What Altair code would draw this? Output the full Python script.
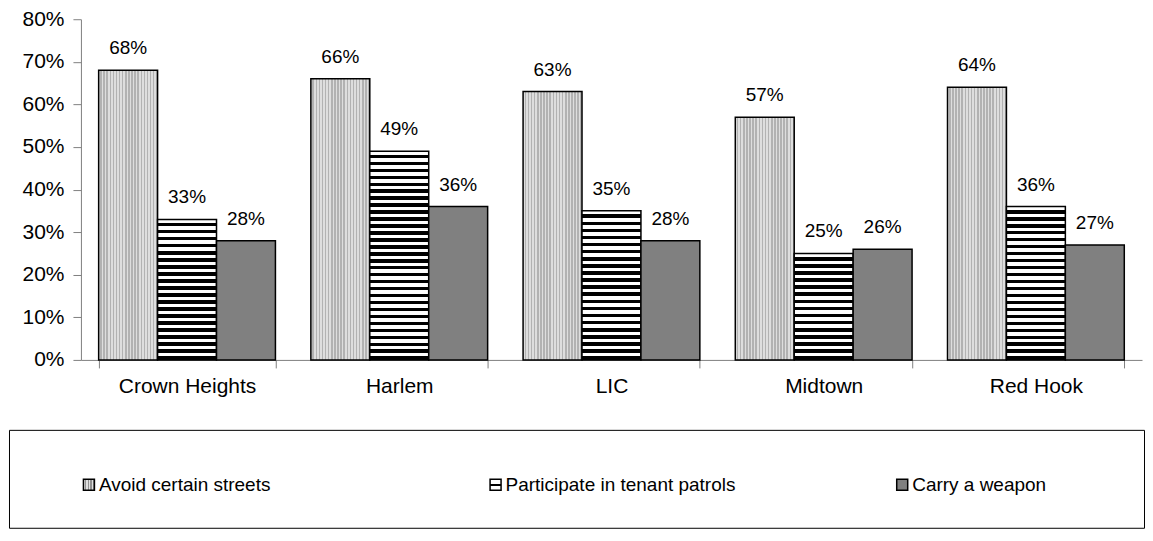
import altair as alt
import pandas as pd

# ---- data ----
categories = ["Crown Heights", "Harlem", "LIC", "Midtown", "Red Hook"]
series = ["Avoid certain streets", "Participate in tenant patrols", "Carry a weapon"]
avoid = [0.68, 0.66, 0.63, 0.57, 0.64]
patrols = [0.33, 0.49, 0.35, 0.25, 0.36]
weapon = [0.28, 0.36, 0.28, 0.26, 0.27]
y_ticks = [0.0, 0.1, 0.2, 0.3, 0.4, 0.5, 0.6, 0.7, 0.8]

rows = []
for i, c in enumerate(categories):
    for s, vals in zip(series, [avoid, patrols, weapon]):
        rows.append({"cat": c, "series": s, "value": vals[i]})
df = pd.DataFrame(rows)

# ---- styling ----
FONT = "Liberation Sans"
VIEW_W, PLOT_H = 1134, 341
AXIS_X = 72          # y axis sits this far inside the view, leaving room for its labels
Y_MAX = 0.8
STRIPE_PERIOD = 7
DOT_COLUMNS = 19
SOLID_GRAY = "#808080"
AXIS_GRAY = "#808080"


def banded(n, c1, c2, horizontal_bands=True, split=0.5):
    stops = []
    for k in range(n):
        a, b, c = k / n, (k + split) / n, (k + 1) / n
        stops += [
            {"offset": a, "color": c1},
            {"offset": b, "color": c1},
            {"offset": b, "color": c2},
            {"offset": c, "color": c2},
        ]
    if horizontal_bands:
        return {"gradient": "linear", "x1": 0, "y1": 0, "x2": 0, "y2": 1, "stops": stops}
    return {"gradient": "linear", "x1": 0, "y1": 0, "x2": 1, "y2": 0, "stops": stops}


DOTS = banded(DOT_COLUMNS, "#dedede", "#b2b2b2", horizontal_bands=False)

conds = []
for c, v in zip(categories, patrols):
    n = max(1, round(v / Y_MAX * PLOT_H / STRIPE_PERIOD))
    conds.append({"test": f"datum.series === '{series[1]}' && datum.cat === '{c}'",
                  "value": banded(n, "white", "black")})
conds.append({"test": f"datum.series === '{series[0]}'", "value": DOTS})
bar_fill = {"condition": conds, "value": SOLID_GRAY}

x = alt.X(
    "cat:N",
    sort=categories,
    scale=alt.Scale(paddingInner=0.167, paddingOuter=0.0835, range=[AXIS_X, VIEW_W]),
    axis=alt.Axis(
        title=None, labelAngle=0, labelFontSize=21, labelColor="black",
        tickBand="extent", tickSize=8, tickColor=AXIS_GRAY, domainColor=AXIS_GRAY,
        labelPadding=8, labelFont=FONT,
    ),
)
xo = alt.XOffset("series:N", sort=series, scale=alt.Scale(domain=series))
y = alt.Y(
    "value:Q",
    scale=alt.Scale(domain=[0, Y_MAX], nice=False),
    axis=alt.Axis(
        values=y_ticks, format=".0%", title=None, grid=False, tickSize=8,
        tickColor=AXIS_GRAY, domainColor=AXIS_GRAY, labelFontSize=21,
        labelColor="black", labelPadding=9, offset=-AXIS_X, minExtent=0, labelFont=FONT,
    ),
)

base = alt.Chart(df)
bars = base.mark_bar(stroke="black", strokeWidth=1.5).encode(x=x, xOffset=xo, y=y, fill=bar_fill)
labels = base.mark_text(baseline="alphabetic", dy=-16, fontSize=19, font=FONT, color="black").encode(
    x=x, xOffset=xo, y=y, text=alt.Text("value:Q", format=".0%")
)
top = alt.layer(bars, labels).properties(width=VIEW_W, height=PLOT_H)

# ---- legend panel ----
leg_df = pd.DataFrame({"series": series})
leg_symbol_stripe = {
    "gradient": "linear", "x1": 0, "y1": 0, "x2": 0, "y2": 1,
    "stops": [
        {"offset": 0, "color": "white"}, {"offset": 0.4, "color": "white"},
        {"offset": 0.4, "color": "black"}, {"offset": 0.6, "color": "black"},
        {"offset": 0.6, "color": "white"}, {"offset": 1, "color": "white"},
    ],
}
leg_fill = {
    "condition": [
        {"test": f"datum.series === '{series[0]}'", "value": banded(4, "#e0e0e0", "#909090", horizontal_bands=False)},
        {"test": f"datum.series === '{series[1]}'", "value": leg_symbol_stripe},
    ],
    "value": SOLID_GRAY,
}
leg_x = alt.X(
    "series:N", sort=series,
    scale=alt.Scale(type="point", domain=series, range=[80, 894], padding=0),
    axis=None,
)
sym = alt.Chart(leg_df).mark_square(size=121, stroke="black", strokeWidth=1.5, opacity=1, yOffset=6).encode(
    x=leg_x, fill=leg_fill
)
txt = alt.Chart(leg_df).mark_text(align="left", dx=10, dy=6, fontSize=19, font=FONT, color="black").encode(
    x=leg_x, text="series:N"
)
legend = alt.layer(sym, txt).properties(
    width=1136, height=98, view=alt.ViewBackground(stroke="black", strokeWidth=1)
)

chart = (
    alt.concat(top, legend, columns=1, spacing=32)
    .properties(padding={"left": 0, "top": 0, "right": 0, "bottom": 0})
    .configure(font=FONT)
    .configure_view(strokeWidth=0)
)

chart.save("out.html", embed_options={"renderer": "svg", "actions": False})
